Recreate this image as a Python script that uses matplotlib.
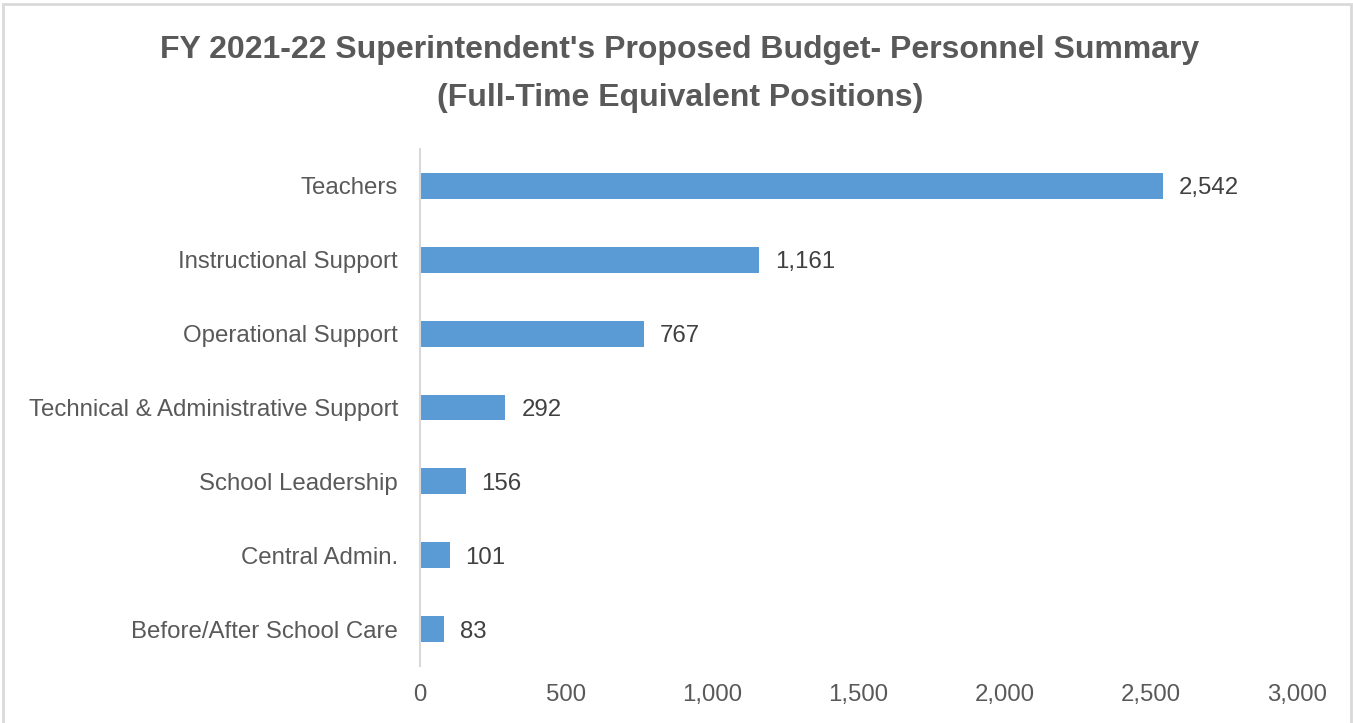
import matplotlib
matplotlib.use("Agg")
import matplotlib.pyplot as plt
from matplotlib.patches import Rectangle
from matplotlib.ticker import FuncFormatter, MultipleLocator

categories = [
    "Teachers",
    "Instructional Support",
    "Operational Support",
    "Technical & Administrative Support",
    "School Leadership",
    "Central Admin.",
    "Before/After School Care",
]
fte = [2542, 1161, 767, 292, 156, 101, 83]

title = "FY 2021-22 Superintendent's Proposed Budget- Personnel Summary\n(Full-Time Equivalent Positions)"

W, H, DPI = 1353, 723, 100
fig = plt.figure(figsize=(W / DPI, H / DPI), dpi=DPI)
fig.patch.set_facecolor("white")

# outer chart frame
fig.patches.append(Rectangle((3 / W, -0.05), (1351 - 3) / W, 1.05 - 4 / H,
                             transform=fig.transFigure, fill=False,
                             edgecolor="#D9D9D9", linewidth=2))

ax = fig.add_axes([420 / W, 1 - 666 / H, (1297 - 420) / W, (666 - 149) / H])

pos = list(range(len(categories)))[::-1]
ax.barh(pos, fte, height=0.35, color="#5B9BD5")
ax.set_xlim(0, 3000)
ax.set_ylim(-0.5, len(categories) - 0.5)
ax.set_yticks(pos)
ax.set_yticklabels(categories)
ax.xaxis.set_major_locator(MultipleLocator(500))
ax.xaxis.set_major_formatter(FuncFormatter(lambda v, p: f"{int(v):,}"))

for y, v in zip(pos, fte):
    ax.annotate(f"{v:,}", (v, y), xytext=(16, 0), textcoords="offset pixels",
                va="center_baseline", ha="left", fontsize=17.3, color="#404040",
                family="Liberation Sans")

for s in ("top", "right", "bottom"):
    ax.spines[s].set_visible(False)
ax.spines["left"].set_color("#D9D9D9")
ax.spines["left"].set_linewidth(1.5)
ax.tick_params(axis="both", length=0, labelsize=17.3, labelcolor="#595959")
ax.tick_params(axis="y", pad=16)
ax.tick_params(axis="x", pad=13)
for lbl in ax.get_xticklabels() + ax.get_yticklabels():
    lbl.set_family("Liberation Sans")

fig.text(680 / W, 1 - 74 / H, title, ha="center", va="center",
         fontsize=23, fontweight="bold", color="#595959",
         family="Liberation Sans", linespacing=1.78)

fig.savefig("out.png", dpi=DPI)
